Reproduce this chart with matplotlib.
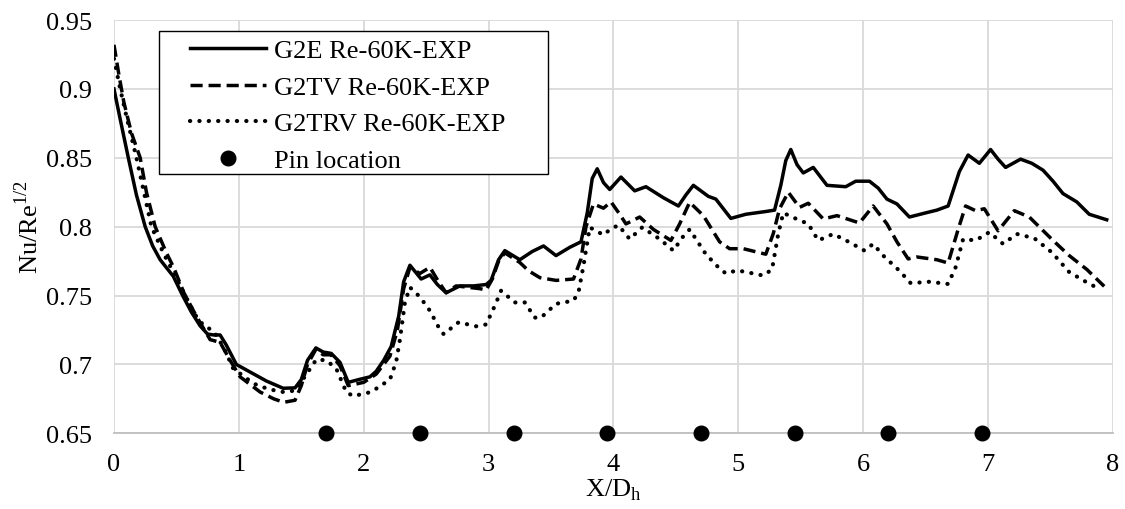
import matplotlib
matplotlib.use("Agg")
import matplotlib.pyplot as plt
from matplotlib.patches import Rectangle

# data
g2e_x = [0.00, 0.05, 0.115, 0.18, 0.25, 0.31, 0.37, 0.475, 0.55, 0.62, 0.69, 0.75, 0.80, 0.85,
         0.90, 0.98, 1.10, 1.22, 1.355, 1.45, 1.50, 1.55, 1.617, 1.675, 1.74, 1.81, 1.876, 1.96,
         2.05, 2.10, 2.16, 2.22, 2.28, 2.32, 2.37, 2.46, 2.53, 2.59, 2.66, 2.77, 2.88, 2.98, 3.02,
         3.08, 3.13, 3.25, 3.35, 3.44, 3.54, 3.65, 3.74, 3.79, 3.83, 3.87, 3.92, 3.97, 4.06, 4.17,
         4.26, 4.40, 4.52, 4.58, 4.64, 4.76, 4.82, 4.94, 5.06, 5.14, 5.22, 5.29, 5.34, 5.38, 5.42,
         5.47, 5.52, 5.60, 5.71, 5.86, 5.94, 6.05, 6.12, 6.19, 6.27, 6.37, 6.50, 6.59, 6.68, 6.77,
         6.84, 6.93, 7.02, 7.08, 7.14, 7.26, 7.35, 7.44, 7.52, 7.60, 7.71, 7.81, 7.95]
g2e_y = [0.900, 0.878, 0.850, 0.823, 0.800, 0.786, 0.776, 0.764, 0.750, 0.738, 0.728, 0.722, 0.7214, 0.7214,
         0.714, 0.700, 0.694, 0.688, 0.6827, 0.683, 0.689, 0.703, 0.712, 0.709, 0.708, 0.7015, 0.687, 0.689,
         0.691, 0.695, 0.703, 0.713, 0.735, 0.760, 0.772, 0.762, 0.765, 0.758, 0.752, 0.757, 0.757, 0.758, 0.761,
         0.776, 0.7826, 0.776, 0.782, 0.786, 0.779, 0.785, 0.789, 0.810, 0.835, 0.842, 0.832, 0.827, 0.836, 0.826,
         0.829, 0.821, 0.815, 0.823, 0.830, 0.822, 0.820, 0.806, 0.809, 0.810, 0.811, 0.812, 0.830, 0.848, 0.856,
         0.845, 0.839, 0.843, 0.830, 0.829, 0.833, 0.833, 0.828, 0.820, 0.8165, 0.807, 0.810, 0.812, 0.815, 0.840,
         0.852, 0.846, 0.856, 0.849, 0.843, 0.849, 0.846, 0.841, 0.833, 0.824, 0.818, 0.809, 0.805]

g2tv_x = [0.00, 0.04, 0.08, 0.14, 0.21, 0.26, 0.33, 0.42, 0.48, 0.56, 0.66, 0.77, 0.85, 0.93, 1.01,
          1.17, 1.28, 1.36, 1.45, 1.50, 1.55, 1.617, 1.675, 1.74, 1.81, 1.876, 2.00, 2.10, 2.21, 2.27,
          2.32, 2.37, 2.45, 2.53, 2.60, 2.66, 2.74, 2.93, 2.98, 3.03, 3.08, 3.13, 3.25, 3.32, 3.41,
          3.54, 3.68, 3.74, 3.78, 3.84, 3.92, 3.98, 4.05, 4.10, 4.21, 4.32, 4.46, 4.53, 4.61, 4.72,
          4.85, 4.93, 5.04, 5.22, 5.28, 5.33, 5.40, 5.49, 5.56, 5.68, 5.79, 5.97, 6.08, 6.19, 6.27,
          6.36, 6.43, 6.59, 6.68, 6.76, 6.82, 6.90, 6.97, 7.08, 7.21, 7.33, 7.52, 7.65, 7.79, 7.93]
g2tv_y = [0.932, 0.910, 0.890, 0.868, 0.850, 0.825, 0.800, 0.781, 0.770, 0.752, 0.735, 0.718, 0.716, 0.703, 0.691,
          0.680, 0.675, 0.6725, 0.674, 0.6846, 0.700, 0.711, 0.707, 0.707, 0.699, 0.6846, 0.687, 0.693, 0.706, 0.725,
          0.755, 0.7705, 0.766, 0.7705, 0.760, 0.752, 0.757, 0.755, 0.754, 0.762, 0.775, 0.781, 0.774, 0.768, 0.763,
          0.761, 0.762, 0.7766, 0.800, 0.8165, 0.8134, 0.818, 0.809, 0.802, 0.807, 0.798, 0.790, 0.802, 0.8177, 0.808,
          0.789, 0.784, 0.784, 0.780, 0.795, 0.813, 0.825, 0.814, 0.817, 0.8056, 0.808, 0.8027, 0.815, 0.802, 0.789,
          0.7766, 0.778, 0.776, 0.7736, 0.798, 0.815, 0.8116, 0.813, 0.797, 0.8116, 0.807, 0.790, 0.779, 0.769, 0.7567]

g2trv_x = [0.00, 0.05, 0.10, 0.18, 0.24, 0.30, 0.40, 0.47, 0.56, 0.65, 0.72, 0.795, 0.88, 0.955, 1.12,
           1.24, 1.355, 1.45, 1.52, 1.62, 1.70, 1.78, 1.86, 1.915, 2.06, 2.21, 2.26, 2.29, 2.33, 2.37,
           2.45, 2.53, 2.60, 2.64, 2.76, 2.90, 2.98, 3.05, 3.10, 3.21, 3.29, 3.37, 3.42, 3.54, 3.68,
           3.72, 3.76, 3.81, 3.92, 3.98, 4.04, 4.13, 4.23, 4.37, 4.48, 4.55, 4.61, 4.74, 4.84, 4.90,
           4.99, 5.12, 5.20, 5.27, 5.32, 5.36, 5.43, 5.56, 5.64, 5.76, 5.89, 6.01, 6.08, 6.16, 6.29,
           6.38, 6.53, 6.68, 6.74, 6.80, 6.90, 7.01, 7.12, 7.23, 7.37, 7.51, 7.65, 7.79, 7.89]
g2trv_y = [0.922, 0.900, 0.880, 0.850, 0.825, 0.800, 0.780, 0.768, 0.752, 0.736, 0.728, 0.7245, 0.712, 0.697, 0.686,
           0.682, 0.680, 0.681, 0.690, 0.7035, 0.703, 0.697, 0.680, 0.677, 0.680, 0.689, 0.702, 0.718, 0.745, 0.756,
           0.749, 0.739, 0.727, 0.722, 0.7306, 0.7277, 0.729, 0.7426, 0.7535, 0.745, 0.745, 0.734, 0.734, 0.744, 0.7463,
           0.7524, 0.7717, 0.7995, 0.794, 0.7985, 0.801, 0.791, 0.7995, 0.791, 0.7826, 0.792, 0.798, 0.780, 0.7705, 0.766,
           0.7683, 0.766, 0.7645, 0.769, 0.795, 0.810, 0.807, 0.802, 0.790, 0.7947, 0.7887, 0.7826, 0.7875, 0.779, 0.768,
           0.759, 0.760, 0.7584, 0.7705, 0.791, 0.790, 0.796, 0.7875, 0.7947, 0.7916, 0.7814, 0.767, 0.7596, 0.7548]

pin_x = [1.7, 2.45, 3.2, 3.95, 4.7, 5.45, 6.2, 6.95]
pin_y = [0.65] * len(pin_x)

plt.rcParams['font.family'] = ['Liberation Serif', 'DejaVu Serif']
plt.rcParams['font.size'] = 19

fig = plt.figure(figsize=(11.25, 5.1), dpi=100)
ax = fig.add_axes([0.1013, 0.1484, 0.888, 0.8104])

ax.plot(g2e_x, g2e_y, color='black', lw=2.5, label='G2E Re-60K-EXP')
ax.plot(g2tv_x, g2tv_y, color='black', lw=2.5, linestyle=(0, (3.5, 1.7)), label='G2TV Re-60K-EXP')
ax.plot(g2trv_x, g2trv_y, color='black', lw=3.0, linestyle=(0, (0.05, 2.2)),
        dash_capstyle='round', label='G2TRV Re-60K-EXP')
ax.plot(pin_x, pin_y, 'o', color='black', markersize=10.5, clip_on=False, zorder=5,
        label='Pin location')

ax.set_xlim(0, 8)
ax.set_ylim(0.65, 0.95)
ax.set_xticks(range(0, 9))
ax.set_yticks([0.65, 0.7, 0.75, 0.8, 0.85, 0.9, 0.95])
ax.set_yticklabels(['0.65', '0.7', '0.75', '0.8', '0.85', '0.9', '0.95'])
ax.grid(True, color='#d9d9d9', lw=1.3)
ax.set_axisbelow(True)
for s in ['top', 'right', 'left']:
    ax.spines[s].set_visible(False)
ax.spines['bottom'].set_color('#bfbfbf')
ax.spines['bottom'].set_linewidth(1.3)
ax.tick_params(length=0)
ax.tick_params(axis='x', pad=14)
ax.tick_params(axis='y', pad=16)

ax.set_xlabel('X/D$_\\mathregular{h}$', labelpad=1)
ax.set_ylabel('Nu/Re$^\\mathregular{1/2}$', labelpad=2)

# excel style legend box, wider than the entries
box = Rectangle((0.045, 0.6274), 0.3894, 0.346, transform=ax.transAxes,
                facecolor='white', edgecolor='black', lw=1.0, zorder=6)
ax.add_patch(box)
leg = ax.legend(loc='upper left', bbox_to_anchor=(0.076, 0.955), borderaxespad=0,
                borderpad=0, frameon=False, handlelength=2.9,
                handletextpad=0.3, labelspacing=0.5)
leg.set_zorder(7)

fig.savefig('out.png', dpi=100)
